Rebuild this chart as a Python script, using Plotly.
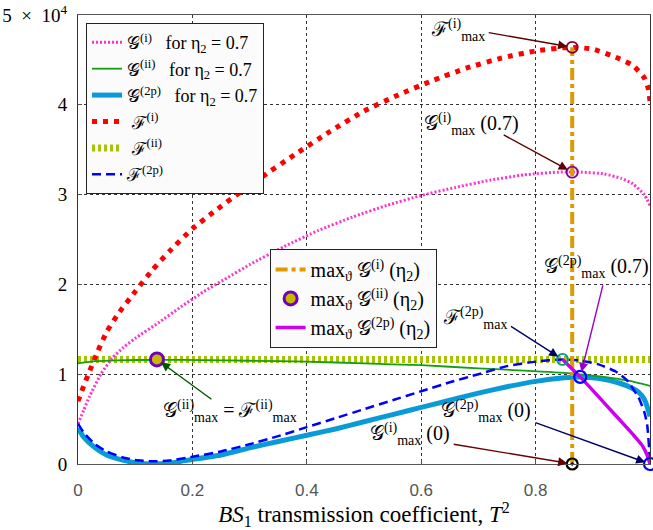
import plotly.graph_objects as go

# ---------------- data (y in units of 10^4) ----------------
# F^(i)  (red dotted)
T_Fi = [0, 0.01, 0.02, 0.035, 0.05, 0.07, 0.1, 0.13, 0.16, 0.2, 0.24, 0.28, 0.32, 0.38, 0.44,
        0.5, 0.56, 0.62, 0.68, 0.74, 0.8, 0.86, 0.9, 0.94, 0.97, 0.99, 0.997, 1.0]
V_Fi = [0.7, 0.87, 1.03, 1.26, 1.47, 1.67, 1.92, 2.16, 2.37, 2.62, 2.82, 3.01, 3.19, 3.45, 3.7,
        3.93, 4.11, 4.27, 4.41, 4.52, 4.6, 4.64, 4.62, 4.53, 4.44, 4.3, 4.18, 4.04]
# G^(i) for eta2 = 0.7 (pink dotted)
T_Gi = [0, 0.01, 0.02, 0.04, 0.06, 0.08, 0.1, 0.14, 0.18, 0.22, 0.26, 0.3, 0.36, 0.42, 0.48,
        0.54, 0.6, 0.66, 0.72, 0.78, 0.84, 0.88, 0.92, 0.95, 0.97, 0.99, 1.0]
V_Gi = [0.45, 0.6, 0.75, 1.0, 1.18, 1.3, 1.4, 1.57, 1.75, 1.92, 2.07, 2.22, 2.42, 2.6, 2.75,
        2.88, 2.99, 3.08, 3.16, 3.22, 3.25, 3.25, 3.23, 3.18, 3.12, 3.0, 2.88]
# G^(ii) for eta2 = 0.7 (green)
T_Gii = [0, 0.03, 0.07, 0.14, 0.22, 0.3, 0.4, 0.5, 0.6, 0.7, 0.78, 0.86, 0.92, 0.96, 1.0]
V_Gii = [1.12, 1.145, 1.155, 1.16, 1.157, 1.15, 1.14, 1.12, 1.1, 1.065, 1.04, 1.01, 0.97, 0.93, 0.87]
# F^(ii) (yellow-green, constant)
T_Fii = [0, 0.25, 0.5, 0.75, 1.0]
V_Fii = [1.165, 1.165, 1.165, 1.165, 1.165]
# G^(2p) for eta2 = 0.7 (light blue thick)
T_G2p = [0, 0.01, 0.03, 0.05, 0.08, 0.1, 0.13, 0.16, 0.2, 0.25, 0.3, 0.35, 0.4, 0.45, 0.5,
         0.55, 0.6, 0.65, 0.7, 0.75, 0.8, 0.85, 0.876, 0.9, 0.93, 0.96, 0.98, 0.99, 0.997, 1.0]
V_G2p = [0.4, 0.3, 0.18, 0.1, 0.04, 0.015, 0.0, 0.01, 0.05, 0.1, 0.18, 0.25, 0.32, 0.39, 0.47,
         0.55, 0.63, 0.71, 0.79, 0.86, 0.92, 0.96, 0.97, 0.96, 0.93, 0.87, 0.8, 0.72, 0.6, 0.53]
# F^(2p) (blue dashed)
T_F2p = [0, 0.01, 0.03, 0.05, 0.08, 0.1, 0.13, 0.16, 0.2, 0.25, 0.3, 0.35, 0.4, 0.45, 0.5,
         0.55, 0.6, 0.65, 0.7, 0.75, 0.8, 0.847, 0.88, 0.91, 0.94, 0.96, 0.98, 0.99, 0.995, 1.0]
V_F2p = [0.45, 0.35, 0.22, 0.14, 0.07, 0.045, 0.03, 0.04, 0.08, 0.14, 0.22, 0.31, 0.41, 0.51, 0.61,
         0.71, 0.81, 0.91, 1.0, 1.09, 1.14, 1.165, 1.15, 1.11, 1.03, 0.93, 0.74, 0.58, 0.44, 0.03]
# max over theta of G^(2p)(eta2) (magenta)
T_M2p = [0.847, 0.878, 0.91, 0.94, 0.97, 0.986, 0.995, 1.0]
V_M2p = [1.165, 0.97, 0.75, 0.54, 0.33, 0.21, 0.1, 0.0]
# max over theta of G^(i)(eta2) (orange vertical)
T_Mi = [0.864, 0.864]
V_Mi = [0.0, 4.64]
# special points
P_Fi_max = (0.864, 4.64)
P_Gi_max07 = (0.864, 3.25)
P_Gi_max0 = (0.864, 0.0)
P_Gii_max = (0.138, 1.165)
P_F2p_max = (0.847, 1.165)
P_G2p_max07 = (0.878, 0.97)
P_G2p_max0 = (1.0, 0.0)

X_TICKS = [0, 0.2, 0.4, 0.6, 0.8, 1]
X_TICKTEXT = ["0", "0.2", "0.4", "0.6", "0.8", "1"]
Y_TICKS = [0, 1, 2, 3, 4, 5]
Y_TICKTEXT = ["0", "1", "2", "3", "4", "5\u00a0\u00a0×\u00a0\u00a010<sup>4</sup>"]

SERIF = "Liberation Serif, DejaVu Serif, serif"
SANS = "Liberation Sans, Arial, sans-serif"
G = "𝒢"
F = "ℱ"
SP = "\u00a0\u00a0\u00a0"

fig = go.Figure()


def line(x, y, name, color, width, dash, legend, rank, shape="spline"):
    fig.add_trace(go.Scatter(x=x, y=y, mode="lines", name=name,
                             line=dict(color=color, width=width, dash=dash, shape=shape,
                                       smoothing=0.5 if shape == "spline" else None),
                             legend=legend, legendrank=rank))


line(T_Fii, V_Fii, "\u00a0" + F + "<sup>(ii)</sup>", "#a8c400", 7, "3px,3px", "legend", 5, "linear")
line(T_Gi, V_Gi, G + "<sup>(i)</sup>" + SP + "for η<sub>2</sub>\u00a0=\u00a00.7", "#ff33cc", 3,
     "2px,2px", "legend", 1)
line(T_Fi, V_Fi, "\u00a0" + F + "<sup>(i)</sup>", "#ff0000", 5, "5px,6px", "legend", 4)
line(T_G2p, V_G2p, G + "<sup>(2p)</sup>" + SP + "for η<sub>2</sub>\u00a0=\u00a00.7", "#0a9ad8", 5,
     "solid", "legend", 3)
line(T_Gii, V_Gii, G + "<sup>(ii)</sup>" + SP + "for η<sub>2</sub>\u00a0=\u00a00.7", "#12a012", 1.8,
     "solid", "legend", 2)
line(T_F2p, V_F2p, F + "<sup>(2p)</sup>", "#0000ff", 2.5, "9px,5px", "legend", 6)
line(T_Mi, V_Mi, "max<sub>ϑ</sub> " + G + "<sup>(i)</sup> (η<sub>2</sub>)", "#de9a00", 4,
     "12px,4px,4px,4px", "legend2", 7, "linear")
line(T_M2p, V_M2p, "max<sub>ϑ</sub> " + G + "<sup>(2p)</sup> (η<sub>2</sub>)", "#cc00ee", 3.5,
     "solid", "legend2", 9)

fig.add_trace(go.Scatter(x=[P_Gii_max[0]], y=[P_Gii_max[1]], mode="markers",
                         name="max<sub>ϑ</sub> " + G + "<sup>(ii)</sup> (η<sub>2</sub>)",
                         marker=dict(symbol="circle", size=13, color="#c9b800",
                                     line=dict(color="#7000c0", width=3)),
                         legend="legend2", legendrank=8, cliponaxis=False))


def pt(p, color, symbol="circle-open", size=11, width=1.8):
    fig.add_trace(go.Scatter(x=[p[0]], y=[p[1]], mode="markers", showlegend=False,
                             marker=dict(symbol=symbol, size=size, color=color,
                                         line=dict(color=color, width=width)),
                             cliponaxis=False))


pt(P_Fi_max, "#8a0030")
pt(P_Gi_max07, "#8a0090")
pt(P_Gi_max0, "#000000", "circle-open-dot", 11, 2.2)
pt(P_F2p_max, "#00998f")
pt(P_G2p_max07, "#0000ff", size=12, width=2.2)
pt(P_G2p_max0, "#0000ff", size=12, width=2.2)

# arrows (head at point, tail offset in pixels) and labels
labels = [
    (P_Fi_max, -85, -15, "#5a0000", F + "<sup>(i)</sup><sub>max</sub>", "right", -85, 17),
    (P_Gi_max07, -70, -38, "#5a0000", G + "<sup>(i)</sup><sub>max</sub> (0.7)", "right", -51, 48),
    (P_G2p_max07, 23, -93, "#9a00cc", G + "<sup>(2p)</sup><sub>max</sub> (0.7)", "right", 71, 110),
    (P_F2p_max, -53, -34, "#000066", F + "<sup>(2p)</sup><sub>max</sub>", "right", -53, 41),
    (P_G2p_max0, -116, -42, "#000066", G + "<sup>(2p)</sup><sub>max</sub> (0)", "right", -117, 53),
    (P_Gi_max0, -120, -20, "#6a0000", G + "<sup>(i)</sup><sub>max</sub> (0)", "right", -120, 30),
    (P_Gii_max, 56, 41, "#005500",
     G + "<sup>(ii)</sup><sub>max</sub> = " + F + "<sup>(ii)</sup><sub>max</sub>", "left", 4, -52),
]
for p, ax, ay, col, txt, anch, xs, ys in labels:
    fig.add_annotation(x=p[0], y=p[1], xref="x", yref="y", ax=ax, ay=ay, text="",
                       showarrow=True, arrowhead=2, arrowsize=1.3, arrowwidth=1.4,
                       arrowcolor=col, standoff=5)
    fig.add_annotation(x=p[0], y=p[1], xref="x", yref="y", text=txt, showarrow=False,
                       xanchor=anch, yanchor="middle", xshift=xs, yshift=ys,
                       font=dict(family=SERIF, size=20, color="black"))

fig.update_layout(
    width=653, height=530,
    margin=dict(l=78, r=2, t=10, b=66),
    paper_bgcolor="white", plot_bgcolor="white",
    legend=dict(x=0.014, y=0.982, xanchor="left", yanchor="top", bgcolor="#fbfbfb",
                bordercolor="#222", borderwidth=1, itemwidth=30, tracegroupgap=0,
                font=dict(family=SERIF, size=18, color="black")),
    legend2=dict(x=0.335, y=0.479, xanchor="left", yanchor="top", bgcolor="#fbfbfb",
                 bordercolor="#222", borderwidth=1, itemwidth=30, tracegroupgap=0,
                 font=dict(family=SERIF, size=20, color="black")),
    xaxis=dict(range=[0, 1], tickvals=X_TICKS, ticktext=X_TICKTEXT,
               tickfont=dict(family=SANS, size=17, color="#555"),
               showgrid=True, gridcolor="#333", griddash="dot", gridwidth=1,
               zeroline=False, showline=True, mirror=True, linecolor="#555", linewidth=1.2,
               ticks="inside", ticklen=4, tickcolor="#555", ticklabelstandoff=10,
               title=dict(text="<i>BS</i><sub>1</sub> transmission coefficient, <i>T</i><sup>2</sup>",
                          font=dict(family=SERIF, size=23, color="black"), standoff=6)),
    yaxis=dict(range=[0, 5], tickvals=Y_TICKS, ticktext=Y_TICKTEXT,
               tickfont=dict(family=SERIF, size=19, color="black"),
               showgrid=True, gridcolor="#333", griddash="dot", gridwidth=1,
               zeroline=False, showline=True, mirror=True, linecolor="#333", linewidth=1,
               ticks="inside", ticklen=4, tickcolor="#555", ticklabelstandoff=6,
               ticklabeloverflow="allow"),
)

fig.write_html("out.html")
